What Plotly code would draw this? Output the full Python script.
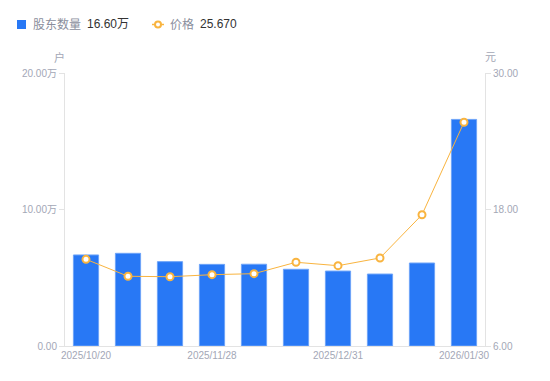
import plotly.graph_objects as go

dates = ["2025/10/20", "2025/10/31", "2025/11/10", "2025/11/28", "2025/12/10",
         "2025/12/19", "2025/12/31", "2026/01/09", "2026/01/20", "2026/01/30"]
holders_wan = [6.67, 6.79, 6.18, 5.98, 5.99, 5.62, 5.49, 5.27, 6.08, 16.60]
price = [13.62, 12.13, 12.09, 12.27, 12.36, 13.36, 13.06, 13.74, 17.54, 25.67]
shown_ticks = ["2025/10/20", "2025/11/28", "2025/12/31", "2026/01/30"]
left_ticks = [0, 10, 20]
left_text = ["0.00", "10.00万", "20.00万"]
right_ticks = [6, 18, 30]
right_text = ["6.00", "18.00", "30.00"]

BLUE = "#2878f5"
ORANGE = "#f9b43f"
GRAY = "#a3a7b6"
FONT = "Liberation Sans, Arial, Noto Sans CJK SC, sans-serif"

# page body has an 8px default margin
OFF = 8
W, H = 550 - OFF, 381 - OFF
PL, PR, PT, PB = 65, 485, 73, 346  # plot area in page pixels
L, T = PL - OFF, PT - OFF
R = W - (PR - OFF)
B = H - (PB - OFF)
PW, PH = PR - PL, PB - PT


def px(x):
    return (x - PL) / PW


def py(y):
    return (PB - y) / PH


fig = go.Figure()
fig.add_trace(go.Bar(x=dates, y=holders_wan, name="股东数量", width=0.6,
                     marker=dict(color=BLUE, line=dict(color="#6ea4f8", width=1)),
                     yaxis="y"))
fig.add_trace(go.Scatter(x=dates, y=price, name="价格", mode="lines+markers",
                         line=dict(color=ORANGE, width=1),
                         marker=dict(size=7, color="white", line=dict(color=ORANGE, width=2)),
                         yaxis="y2"))

fig.update_layout(
    width=W, height=H, margin=dict(l=L, r=R, t=T, b=B),
    paper_bgcolor="white", plot_bgcolor="white", showlegend=False,
    font=dict(family=FONT, size=10, color=GRAY),
    xaxis=dict(type="category", range=[-0.5, 9.5], tickmode="array", tickvals=shown_ticks,
               showline=True, linecolor="#e3e3e3", linewidth=1, ticks="", showgrid=False,
               tickfont=dict(size=10, color=GRAY)),
    yaxis=dict(range=[0, 20], tickmode="array", tickvals=left_ticks, ticktext=left_text,
               showline=True, linecolor="#e3e3e3", ticks="outside", ticklen=5, tickcolor="#e3e3e3",
               showgrid=False, zeroline=False, tickfont=dict(size=10, color=GRAY)),
    yaxis2=dict(range=[6, 30], overlaying="y", side="right", tickmode="array",
                tickvals=right_ticks, ticktext=right_text, showline=True, linecolor="#e3e3e3",
                ticks="outside", ticklen=5, tickcolor="#e3e3e3", showgrid=False, zeroline=False,
                tickfont=dict(size=10, color=GRAY)),
    bargap=0.4,
)

ann = [
    (59, 57, "户", GRAY, "center"),
    (490, 57, "元", GRAY, "center"),
    (31, 24.5, "股东数量", "#8a8e9c", "left"),
    (85, 24.5, f"{holders_wan[-1]:.2f}万", "#333333", "left"),
    (168, 24.5, "价格", "#8a8e9c", "left"),
    (198, 24.5, f"{price[-1]:.3f}", "#333333", "left"),
]
for x, y, t, c, a in ann:
    fig.add_annotation(x=px(x), y=py(y), xref="paper", yref="paper", text=t, showarrow=False,
                       xanchor=a, yanchor="middle", font=dict(size=12 if y < 50 else 11, color=c, family=FONT))

fig.add_shape(type="rect", xref="paper", yref="paper", x0=px(17), x1=px(26), y0=py(29), y1=py(20),
              fillcolor=BLUE, line=dict(width=0))
fig.add_shape(type="line", xref="paper", yref="paper", x0=px(152), x1=px(164), y0=py(24.5), y1=py(24.5),
              line=dict(color=ORANGE, width=1.5))
fig.add_shape(type="circle", xref="paper", yref="paper", x0=px(155), x1=px(161), y0=py(27.5), y1=py(21.5),
              fillcolor="white", line=dict(color=ORANGE, width=2))

fig.write_html("out.html")
